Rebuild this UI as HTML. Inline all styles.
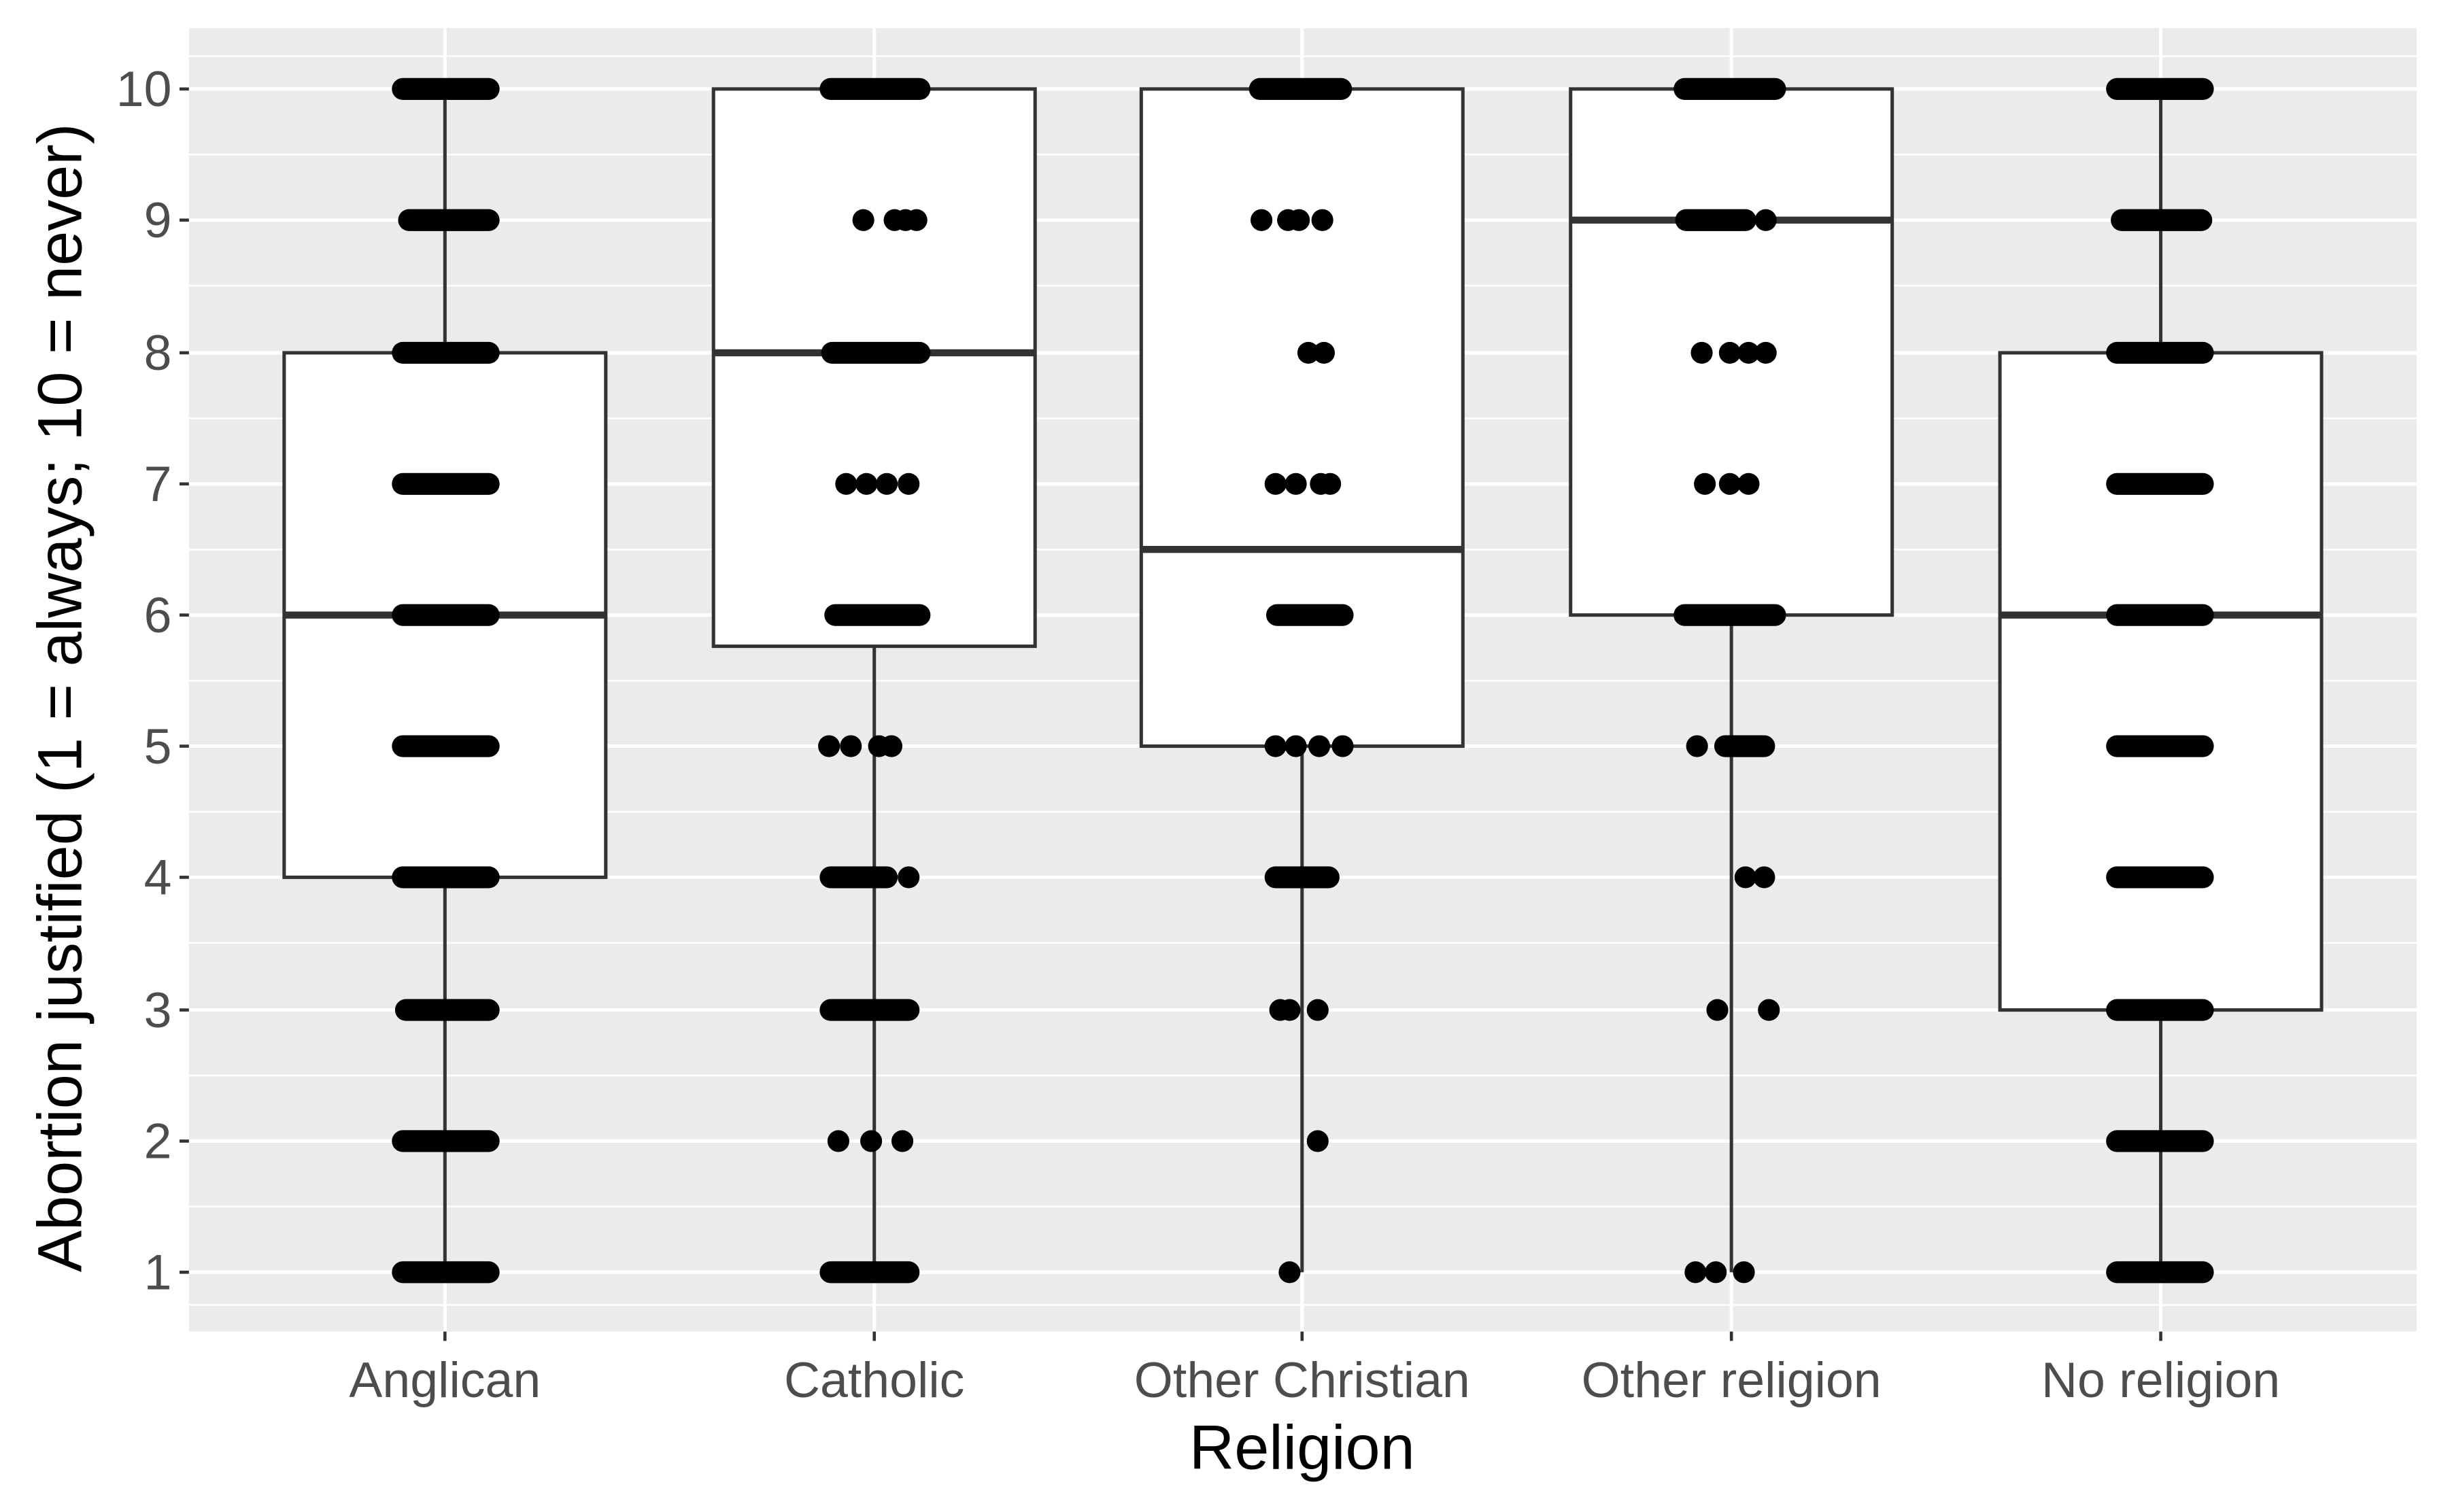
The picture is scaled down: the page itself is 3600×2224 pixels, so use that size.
<!DOCTYPE html>
<html><head><meta charset="utf-8"><style>html,body{margin:0;padding:0;background:#fff}svg{display:block}</style></head>
<body>
<svg width="3600" height="2224" viewBox="0 0 1568 968.6" preserveAspectRatio="none" xmlns="http://www.w3.org/2000/svg" font-family="Liberation Sans, Arial, sans-serif">
<rect x="0" y="0" width="1568" height="969" fill="#fff"/>
<rect x="121" y="18" width="1427" height="835" fill="#ebebeb"/>
<g stroke="#fff" stroke-width="1.1">
<line x1="121" x2="1548" y1="36" y2="36"/><line x1="121" x2="1548" y1="99" y2="99"/><line x1="121" x2="1548" y1="183" y2="183"/><line x1="121" x2="1548" y1="268" y2="268"/><line x1="121" x2="1548" y1="352" y2="352"/><line x1="121" x2="1548" y1="436" y2="436"/><line x1="121" x2="1548" y1="520" y2="520"/><line x1="121" x2="1548" y1="604" y2="604"/><line x1="121" x2="1548" y1="689" y2="689"/><line x1="121" x2="1548" y1="773" y2="773"/><line x1="121" x2="1548" y1="836" y2="836"/>
</g>
<g stroke="#fff" stroke-width="2.2">
<line x1="121" x2="1548" y1="57" y2="57"/><line x1="121" x2="1548" y1="141" y2="141"/><line x1="121" x2="1548" y1="226" y2="226"/><line x1="121" x2="1548" y1="310" y2="310"/><line x1="121" x2="1548" y1="394" y2="394"/><line x1="121" x2="1548" y1="478" y2="478"/><line x1="121" x2="1548" y1="562" y2="562"/><line x1="121" x2="1548" y1="647" y2="647"/><line x1="121" x2="1548" y1="731" y2="731"/><line x1="121" x2="1548" y1="815" y2="815"/>
<line x1="285" x2="285" y1="18" y2="853"/><line x1="560" x2="560" y1="18" y2="853"/><line x1="834" x2="834" y1="18" y2="853"/><line x1="1109" x2="1109" y1="18" y2="853"/><line x1="1384" x2="1384" y1="18" y2="853"/>
</g>
<g stroke="#333" stroke-width="2.2" fill="#fff">
<line x1="285" x2="285" y1="57" y2="815"/><rect x="182" y="226" width="206" height="336"/><line x1="182" x2="388" y1="394" y2="394" stroke-width="4.5"/>
<line x1="560" x2="560" y1="57" y2="815"/><rect x="457" y="57" width="206" height="357"/><line x1="457" x2="663" y1="226" y2="226" stroke-width="4.5"/>
<line x1="834" x2="834" y1="57" y2="815"/><rect x="731" y="57" width="206" height="421"/><line x1="731" x2="937" y1="352" y2="352" stroke-width="4.5"/>
<line x1="1109" x2="1109" y1="57" y2="815"/><rect x="1006" y="57" width="206" height="337"/><line x1="1006" x2="1212" y1="141" y2="141" stroke-width="4.5"/>
<line x1="1384" x2="1384" y1="57" y2="815"/><rect x="1281" y="226" width="206" height="421"/><line x1="1281" x2="1487" y1="394" y2="394" stroke-width="4.5"/>
</g>
<g stroke="#000" stroke-width="14" stroke-linecap="round">
<line x1="258" x2="313" y1="57" y2="57"/><line x1="262" x2="313" y1="141" y2="141"/><line x1="258" x2="313" y1="226" y2="226"/><line x1="258" x2="313" y1="310" y2="310"/><line x1="258" x2="313" y1="394" y2="394"/><line x1="258" x2="313" y1="478" y2="478"/><line x1="258" x2="313" y1="562" y2="562"/><line x1="260" x2="313" y1="647" y2="647"/><line x1="258" x2="313" y1="731" y2="731"/><line x1="258" x2="313" y1="815" y2="815"/>
<line x1="1356" x2="1411" y1="57" y2="57"/><line x1="1359" x2="1410" y1="141" y2="141"/><line x1="1356" x2="1411" y1="226" y2="226"/><line x1="1356" x2="1411" y1="310" y2="310"/><line x1="1356" x2="1411" y1="394" y2="394"/><line x1="1356" x2="1411" y1="478" y2="478"/><line x1="1356" x2="1411" y1="562" y2="562"/><line x1="1356" x2="1411" y1="647" y2="647"/><line x1="1356" x2="1411" y1="731" y2="731"/><line x1="1356" x2="1411" y1="815" y2="815"/>
<line x1="532" x2="589" y1="57" y2="57"/><line x1="533" x2="589" y1="226" y2="226"/><line x1="535" x2="589" y1="394" y2="394"/><line x1="532" x2="568" y1="562" y2="562"/><line x1="532" x2="582" y1="647" y2="647"/><line x1="532" x2="582" y1="815" y2="815"/>
<line x1="807" x2="859" y1="57" y2="57"/><line x1="818" x2="860" y1="394" y2="394"/><line x1="817" x2="851" y1="562" y2="562"/>
<line x1="1079" x2="1137" y1="57" y2="57"/><line x1="1080" x2="1118" y1="141" y2="141"/><line x1="1079" x2="1137" y1="394" y2="394"/><line x1="1105" x2="1130" y1="478" y2="478"/>
</g>
<g fill="#000">
<circle cx="553" cy="141" r="7"/><circle cx="573" cy="141" r="7"/><circle cx="580" cy="141" r="7"/><circle cx="587" cy="141" r="7"/>
<circle cx="542" cy="310" r="7"/><circle cx="555" cy="310" r="7"/><circle cx="568" cy="310" r="7"/><circle cx="582" cy="310" r="7"/>
<circle cx="531" cy="478" r="7"/><circle cx="545" cy="478" r="7"/><circle cx="563" cy="478" r="7"/><circle cx="571" cy="478" r="7"/>
<circle cx="582" cy="562" r="7"/><circle cx="537" cy="731" r="7"/><circle cx="558" cy="731" r="7"/><circle cx="578" cy="731" r="7"/>
<circle cx="808" cy="141" r="7"/><circle cx="825" cy="141" r="7"/><circle cx="832" cy="141" r="7"/><circle cx="847" cy="141" r="7"/>
<circle cx="838" cy="226" r="7"/><circle cx="848" cy="226" r="7"/>
<circle cx="817" cy="310" r="7"/><circle cx="830" cy="310" r="7"/><circle cx="846" cy="310" r="7"/><circle cx="852" cy="310" r="7"/>
<circle cx="817" cy="478" r="7"/><circle cx="830" cy="478" r="7"/><circle cx="845" cy="478" r="7"/><circle cx="860" cy="478" r="7"/>
<circle cx="820" cy="647" r="7"/><circle cx="826" cy="647" r="7"/><circle cx="844" cy="647" r="7"/><circle cx="844" cy="731" r="7"/><circle cx="826" cy="815" r="7"/>
<circle cx="1131" cy="141" r="7"/>
<circle cx="1090" cy="226" r="7"/><circle cx="1108" cy="226" r="7"/><circle cx="1120" cy="226" r="7"/><circle cx="1131" cy="226" r="7"/>
<circle cx="1092" cy="310" r="7"/><circle cx="1108" cy="310" r="7"/><circle cx="1120" cy="310" r="7"/>
<circle cx="1087" cy="478" r="7"/><circle cx="1118" cy="562" r="7"/><circle cx="1130" cy="562" r="7"/>
<circle cx="1100" cy="647" r="7"/><circle cx="1133" cy="647" r="7"/>
<circle cx="1086" cy="815" r="7"/><circle cx="1099" cy="815" r="7"/><circle cx="1117" cy="815" r="7"/>
</g>
<g stroke="#333" stroke-width="2">
<line x1="115" x2="121" y1="57" y2="57"/><line x1="115" x2="121" y1="141" y2="141"/><line x1="115" x2="121" y1="226" y2="226"/><line x1="115" x2="121" y1="310" y2="310"/><line x1="115" x2="121" y1="394" y2="394"/><line x1="115" x2="121" y1="478" y2="478"/><line x1="115" x2="121" y1="562" y2="562"/><line x1="115" x2="121" y1="647" y2="647"/><line x1="115" x2="121" y1="731" y2="731"/><line x1="115" x2="121" y1="815" y2="815"/>
<line x1="285" x2="285" y1="853" y2="859"/><line x1="560" x2="560" y1="853" y2="859"/><line x1="834" x2="834" y1="853" y2="859"/><line x1="1109" x2="1109" y1="853" y2="859"/><line x1="1384" x2="1384" y1="853" y2="859"/>
</g>
<g fill="#4d4d4d" font-size="32" text-anchor="end">
<text x="110" y="68">10</text><text x="110" y="152">9</text><text x="110" y="237">8</text><text x="110" y="321">7</text><text x="110" y="405">6</text><text x="110" y="489">5</text><text x="110" y="573">4</text><text x="110" y="658">3</text><text x="110" y="742">2</text><text x="110" y="826">1</text>
</g>
<g fill="#4d4d4d" font-size="32" text-anchor="middle">
<text x="285" y="895">Anglican</text><text x="560" y="895">Catholic</text><text x="834" y="895">Other Christian</text><text x="1109" y="895">Other religion</text><text x="1384" y="895">No religion</text>
</g>
<text x="834" y="941" font-size="40" text-anchor="middle" fill="#000">Religion</text>
<text transform="translate(52,447) rotate(-90)" font-size="40" text-anchor="middle" fill="#000">Abortion justified (1 = always; 10 = never)</text>
</svg>
</body></html>
